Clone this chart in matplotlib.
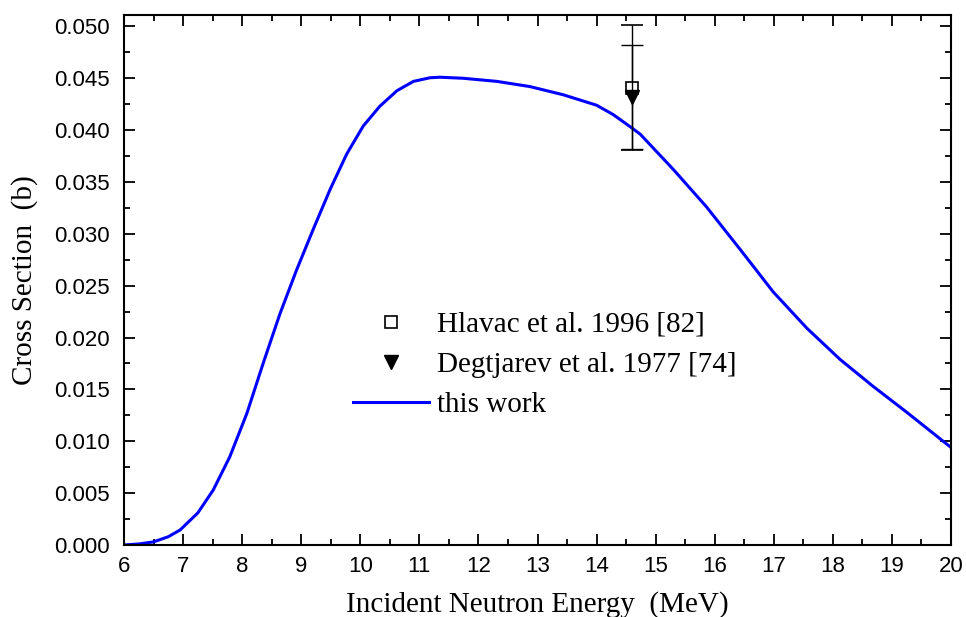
import matplotlib
matplotlib.use("Agg")
import matplotlib.pyplot as plt
from matplotlib.lines import Line2D
from matplotlib.ticker import MultipleLocator, FormatStrFormatter

# calculated excitation function
energy = [6.0, 6.25, 6.5, 6.75, 6.95, 7.25, 7.51, 7.79, 8.08, 8.36, 8.64,
          8.92, 9.20, 9.49, 9.77, 10.05, 10.33, 10.62, 10.90, 11.18, 11.35,
          11.74, 12.31, 12.87, 13.44, 14.00, 14.28, 14.60, 14.74, 15.30,
          15.86, 16.43, 16.99, 17.56, 18.12, 18.68, 19.25, 20.0]
xs = [0.0, 0.0001, 0.0003, 0.0008, 0.00145, 0.0031, 0.0053, 0.0085, 0.0127,
      0.0176, 0.0223, 0.0265, 0.0304, 0.0343, 0.0377, 0.0404, 0.0423,
      0.0438, 0.0447, 0.04505, 0.0451, 0.0450, 0.0447, 0.0442, 0.0434,
      0.0424, 0.0415, 0.0402, 0.0396, 0.0362, 0.0326, 0.0285, 0.0244,
      0.0209, 0.0179, 0.0153, 0.0128, 0.0094]

# measurements
hlavac_e, hlavac_xs, hlavac_err = [14.6], [0.0441], [0.0060]
degt_e, degt_xs, degt_err = [14.6], [0.0432], [0.0050]

plt.rcParams["font.family"] = ["Liberation Sans", "DejaVu Sans"]
serif = ["Liberation Serif", "DejaVu Serif"]

fig = plt.figure(figsize=(9.66, 6.17), dpi=100)
ax = fig.add_axes([0.1284, 0.1167, 0.8561, 0.859])

ax.plot(energy, xs, color="#0000ff", lw=2.2, zorder=2)
ax.errorbar(hlavac_e, hlavac_xs, yerr=hlavac_err, fmt="s", mfc="white",
            mec="black", ms=8.5, mew=1.2, ecolor="black", elinewidth=1,
            capsize=8, capthick=1, zorder=3)
ax.errorbar(degt_e, degt_xs, yerr=degt_err, fmt="v", color="black", ms=10,
            ecolor="black", elinewidth=1, capsize=8, capthick=1, zorder=4)

ax.set_xlim(6, 20)
ax.set_ylim(0, 0.0511)
ax.xaxis.set_major_locator(MultipleLocator(1))
ax.xaxis.set_minor_locator(MultipleLocator(0.5))
ax.yaxis.set_major_locator(MultipleLocator(0.005))
ax.yaxis.set_minor_locator(MultipleLocator(0.0025))
ax.yaxis.set_major_formatter(FormatStrFormatter("%.3f"))

ax.tick_params(which="both", direction="in", top=True, right=True,
               width=1.3, labelsize=16)
ax.tick_params(which="major", length=8)
ax.tick_params(which="minor", length=4.5)
ax.tick_params(axis="x", which="major", pad=8)
ax.tick_params(axis="y", which="major", pad=10)
for sp in ax.spines.values():
    sp.set_linewidth(1.5)

ax.set_xlabel("Incident Neutron Energy  (MeV)", family=serif, fontsize=21,
              labelpad=10)
ax.set_ylabel("Cross Section  (b)", family=serif, fontsize=21, labelpad=12)

handles = [
    Line2D([], [], ls="none", marker="s", mfc="white", mec="black",
           ms=8.5, mew=1.2),
    Line2D([], [], ls="none", marker="v", color="black", ms=10),
    Line2D([], [], color="#0000ff", lw=2.2),
]
labels = ["Hlavac et al. 1996 [82]", "Degtjarev et al. 1977 [74]", "this work"]
ax.legend(handles, labels, loc="upper left", bbox_to_anchor=(0.245, 0.49),
          frameon=False, prop={"family": serif, "size": 21},
          handlelength=2.6, handletextpad=0.3, labelspacing=0.47)

fig.savefig("out.png", dpi=100)
